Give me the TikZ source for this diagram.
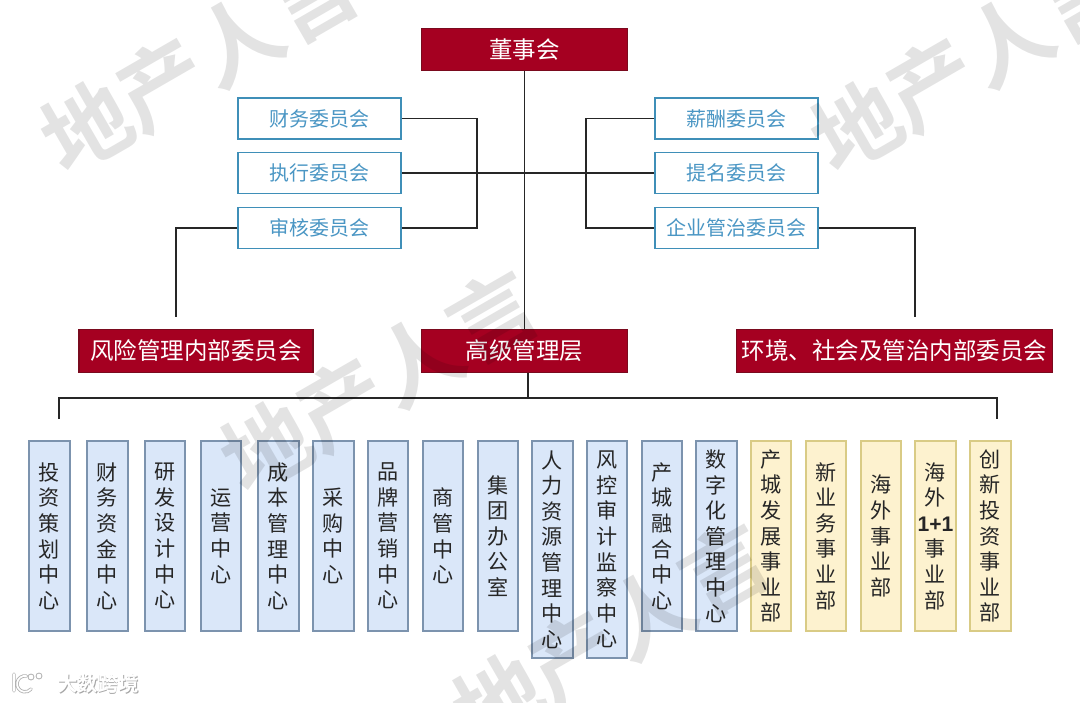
\documentclass[tikz,border=0pt]{standalone}
\usepackage{fontspec}
\newfontfamily\cjk[BoldFont={Noto Sans CJK SC Bold}]{Noto Sans CJK SC}
\setsansfont{Liberation Sans}
\usepackage{tikz}
\usetikzlibrary{arrows.meta,positioning,calc}
\definecolor{redbox}{HTML}{A50021}
\definecolor{redline}{HTML}{7A0A1E}
\definecolor{cmtblue}{HTML}{3F8FB8}
\definecolor{cmttext}{HTML}{4A96C4}
\definecolor{colfill}{HTML}{DAE7F9}
\definecolor{colline}{HTML}{7C93AE}
\definecolor{bizfill}{HTML}{FDF2CF}
\definecolor{bizline}{HTML}{D9CB85}
\tikzset{
  lead/.style={rectangle,draw=redline,fill=redbox,text=white,line width=.8pt,minimum height=1.06cm,inner sep=0pt,font=\cjk\fontsize{16.7}{20}\selectfont},
  cmt/.style={rectangle,draw=cmtblue,fill=white,text=cmttext,line width=.9pt,minimum width=4.08cm,minimum height=1.02cm,inner sep=0pt,font=\cjk\fontsize{14.2}{17}\selectfont},
  colv/.style={rectangle,draw=colline,fill=colfill,text=black!85,line width=1.4pt,minimum width=1.02cm,inner sep=0pt,align=center,font=\cjk\fontsize{15}{18.2}\selectfont},
  bizv/.style={colv,draw=bizline,fill=bizfill},
  short/.style={minimum height=4.75cm},
  tall/.style={minimum height=5.425cm},
  conn/.style={line width=.95pt,black!85},
  wmark/.style={text=black,opacity=.11,rotate=30,font=\cjk\bfseries\fontsize{62}{62}\selectfont},
  logotxt/.style={font=\cjk\bfseries\fontsize{14.5}{14.5}\selectfont},
  logoedge/.style={line width=2.4pt,black!30,line cap=round},
  logoline/.style={line width=1.2pt,white,line cap=round},
  logodot/.style={circle,draw=black!30,fill=white,line width=.6pt,inner sep=0pt,minimum size=.15cm}
}
\begin{document}
\begin{tikzpicture}[x=.025cm,y=-.025cm]
  \useasboundingbox (0,0) rectangle (1080,703);
  \node[lead,minimum width=5.15cm] (board) at (524.5,49.5) {董事会};
  \node[lead,minimum width=5.85cm] (riskc) at (196,351) {风险管理内部委员会};
  \node[lead,minimum width=5.15cm] (mgmt) at (524.5,351) {高级管理层};
  \node[lead,minimum width=7.9cm] (esgc) at (894.5,351) {环境、社会及管治内部委员会};
  \node[cmt] (fin) at (319.5,118.5) {财务委员会};
  \node[cmt] (exec) at (319.5,173) {执行委员会};
  \node[cmt] (audit) at (319.5,228) {审核委员会};
  \node[cmt] (pay) at (736.5,118.5) {薪酬委员会};
  \node[cmt] (nomi) at (736.5,173) {提名委员会};
  \node[cmt] (gov) at (736.5,228) {企业管治委员会};
  \foreach \cx/\cname/\csize/\ctext in {
    49.5/inv/short/投\\资\\策\\划\\中\\心,
    107.5/fund/short/财\\务\\资\\金\\中\\心,
    165/rnd/short/研\\发\\设\\计\\中\\心,
    221/ops/short/运\\营\\中\\心,
    278.5/cost/short/成\\本\\管\\理\\中\\心,
    333.5/buy/short/采\\购\\中\\心,
    388/brand/short/品\\牌\\营\\销\\中\\心,
    443/comm/short/商\\管\\中\\心,
    498/office/short/集\\团\\办\\公\\室,
    552.5/hr/tall/人\\力\\资\\源\\管\\理\\中\\心,
    607/risk/tall/风\\控\\审\\计\\监\\察\\中\\心,
    662/merge/short/产\\城\\融\\合\\中\\心,
    716.5/dig/short/数\\字\\化\\管\\理\\中\\心}
    \node[colv,\csize,anchor=north] (\cname) at (\cx,440) {\ctext};
  \foreach \cx/\cname/\ctext in {
    771/city/产\\城\\发\\展\\事\\业\\部,
    826/newb/新\\业\\务\\事\\业\\部,
    881/over/海\\外\\事\\业\\部,
    935.5/plus/海\\外\\{\sffamily\bfseries 1+1}\\事\\业\\部,
    990.5/vent/创\\新\\投\\资\\事\\业\\部}
    \node[bizv,short,anchor=north] (\cname) at (\cx,440) {\ctext};
  \coordinate (lbr) at (477,173);
  \coordinate (rbr) at (586,173);
  \coordinate (riskend) at (176,317);
  \coordinate (esgend) at (915,317);
  \coordinate (split) at (528,398);
  \coordinate (leftend) at (59,419);
  \coordinate (rightend) at (997,419);
  \draw[conn] (board) -- (mgmt);
  \draw[conn] (exec) -- (nomi);
  \draw[conn] (fin) -| (lbr) |- (audit);
  \draw[conn] (pay) -| (rbr) |- (gov);
  \draw[conn] (audit) -| (riskend);
  \draw[conn] (gov) -| (esgend);
  \draw[conn] (mgmt.south -| split) -- (split);
  \draw[conn] (leftend) |- (split) -| (rightend);
  \begin{scope}
    \clip (0,0) rectangle (1080,703);
    \node[wmark] (marka) at (200,62) {地产人言};
    \node[wmark] (markb) at (970,62) {地产人言};
    \node[wmark] (markc) at (380,382) {地产人言};
    \node[wmark] (markd) at (612,635) {地产人言};
  \end{scope}
  \draw[logoedge] (14,674) -- (14,691) (26.4,676) arc (280:40:8);
  \draw[logoline] (14,674) -- (14,691) (26.4,676) arc (280:40:8);
  \node[logodot] (dota) at (31,677) {};
  \node[logodot] (dotb) at (39,676) {};
  \node[logotxt,text=black!35] (logoshade) at (98.8,684.8) {大数跨境};
  \node[logotxt,text=white] (logotext) at (98,684) {大数跨境};
\end{tikzpicture}
\end{document}
